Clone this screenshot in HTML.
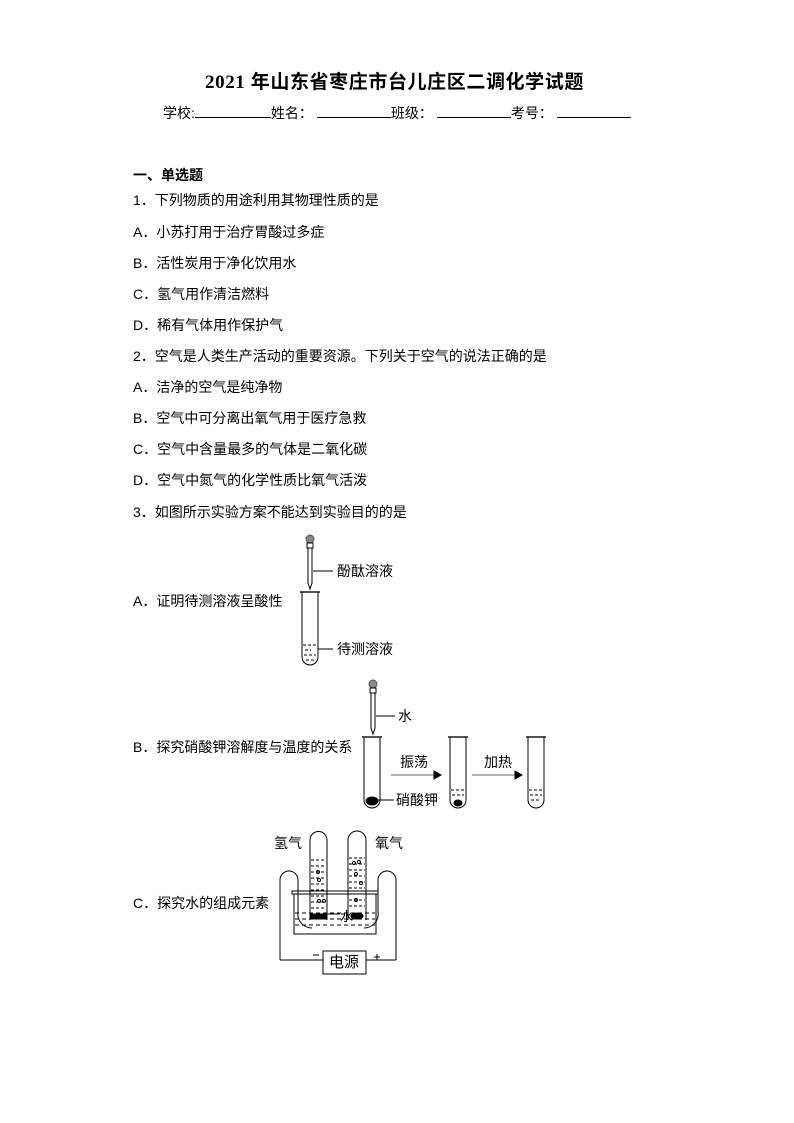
<!DOCTYPE html>
<html><head><meta charset="utf-8"><style>
body{margin:0;background:#fff;}
#p{position:relative;width:794px;height:1123px;font-family:"Liberation Serif","Noto Sans CJK SC",sans-serif;color:#000;}
.t{position:absolute;font-size:14px;letter-spacing:0;white-space:nowrap;line-height:16px;font-family:"Liberation Sans","Noto Sans CJK SC",sans-serif;}
.u{display:inline-block;border-bottom:1px solid #000;height:13px;vertical-align:baseline;}
</style></head><body><div id="p">
<div class="t" style="left:205px;top:72px;font-size:19px;line-height:22px;font-weight:bold;letter-spacing:0.6px;font-family:'Liberation Serif','Noto Sans CJK SC',serif;">2021 年山东省枣庄市台儿庄区二调化学试题</div>
<div class="t" style="left:163px;top:104px;letter-spacing:0;">学校:<span class="u" style="width:76px"></span>姓名：<span class="u" style="width:74px;margin-left:4px"></span>班级：<span class="u" style="width:74px;margin-left:4px"></span>考号：<span class="u" style="width:74px;margin-left:4px"></span></div>
<div class="t" style="left:133px;top:167px;font-weight:bold;">一、单选题</div>
<div class="t" style="left:133px;top:192px;">1．下列物质的用途利用其物理性质的是</div>
<div class="t" style="left:133px;top:224px;">A．小苏打用于治疗胃酸过多症</div>
<div class="t" style="left:133px;top:255px;">B．活性炭用于净化饮用水</div>
<div class="t" style="left:133px;top:286px;">C．氢气用作清洁燃料</div>
<div class="t" style="left:133px;top:317px;">D．稀有气体用作保护气</div>
<div class="t" style="left:133px;top:348px;">2．空气是人类生产活动的重要资源。下列关于空气的说法正确的是</div>
<div class="t" style="left:133px;top:379px;">A．洁净的空气是纯净物</div>
<div class="t" style="left:133px;top:410px;">B．空气中可分离出氧气用于医疗急救</div>
<div class="t" style="left:133px;top:441px;">C．空气中含量最多的气体是二氧化碳</div>
<div class="t" style="left:133px;top:472px;">D．空气中氮气的化学性质比氧气活泼</div>
<div class="t" style="left:133px;top:504px;">3．如图所示实验方案不能达到实验目的的是</div>
<div class="t" style="left:133px;top:593px;">A．证明待测溶液呈酸性</div>
<div class="t" style="left:133px;top:739px;">B．探究硝酸钾溶解度与温度的关系</div>
<div class="t" style="left:133px;top:895px;">C．探究水的组成元素</div>
<div class="t" style="left:337px;top:563px;">酚酞溶液</div>
<div class="t" style="left:337px;top:641px;">待测溶液</div>
<div class="t" style="left:398px;top:708px;">水</div>
<div class="t" style="left:400px;top:754px;">振荡</div>
<div class="t" style="left:484px;top:754px;">加热</div>
<div class="t" style="left:396px;top:792px;">硝酸钾</div>
<div class="t" style="left:274px;top:835px;">氢气</div>
<div class="t" style="left:375px;top:835px;">氧气</div>
<div class="t" style="left:329px;top:955px;font-size:15px;">电源</div>
<svg width="794" height="1123" style="position:absolute;left:0;top:0" fill="none" stroke="#000" stroke-width="1">
<circle cx="310" cy="539" r="4" fill="#888" stroke="#555"/>
<rect x="307" y="543" width="6" height="5" fill="#fff"/>
<path d="M308 548 V583 L310 589 L312 583 V548"/>
<line x1="313" y1="571" x2="333" y2="571"/>
<line x1="300" y1="592" x2="320" y2="592" stroke-width="2" stroke="#555"/>
<path d="M302 592 V657 A8 8 0 0 0 318 657 V592"/>
<path d="M303 645 H317 M305 650 H311 M304 655 H316 M306 660 H314" stroke-dasharray="3 2"/>
<line x1="318" y1="649" x2="333" y2="649"/>
<circle cx="373" cy="684" r="4" fill="#888" stroke="#555"/>
<rect x="370" y="688" width="6" height="5" fill="#fff"/>
<path d="M371 693 V728 L373 734 L375 728 V693"/>
<line x1="376" y1="716" x2="395" y2="716"/>
<line x1="362" y1="737" x2="382" y2="737" stroke-width="2" stroke="#555"/>
<path d="M364 737 V800 A8 8 0 0 0 380 800 V737"/>
<ellipse cx="372" cy="801" rx="6" ry="4" fill="#000"/>
<line x1="378" y1="800" x2="394" y2="800"/>
<line x1="391" y1="775" x2="435" y2="775" stroke="#666"/>
<path d="M434 771 L441 775 L434 779Z" fill="#000"/>
<line x1="448" y1="737" x2="468" y2="737" stroke-width="2" stroke="#555"/>
<path d="M450 737 V800 A8 8 0 0 0 466 800 V737"/>
<path d="M451 790 H465 M452 795 H464" stroke-dasharray="3 2"/>
<ellipse cx="458" cy="803" rx="4" ry="3" fill="#000"/>
<line x1="472" y1="775" x2="516" y2="775" stroke="#666"/>
<path d="M515 771 L522 775 L515 779Z" fill="#000"/>
<line x1="526" y1="737" x2="546" y2="737" stroke-width="2" stroke="#555"/>
<path d="M528 737 V800 A8 8 0 0 0 544 800 V737"/>
<path d="M529 790 H543 M530 795 H542 M531 800 H541" stroke-dasharray="3 2"/>
<path d="M310 920 V840 A8.5 8.5 0 0 1 327 840 V920"/>
<path d="M348 920 V840 A8.5 8.5 0 0 1 366 840 V920"/>
<path d="M311 860 H326 M311 866 H326 M311 872 H326 M311 878 H326 M311 884 H326 M311 890 H326 M311 896 H326 M311 902 H326 M311 908 H326 M349 858 H365 M349 864 H365 M349 870 H365 M349 876 H365 M349 882 H365 M349 888 H365 M349 894 H365 M349 900 H365 M349 906 H365" stroke-dasharray="3 2"/>
<circle cx="318" cy="872" r="1.5"/><circle cx="319" cy="880" r="1.5"/><circle cx="319" cy="901" r="1.5"/><circle cx="324" cy="901" r="1.5"/>
<circle cx="354" cy="863" r="1.5"/><circle cx="359" cy="862" r="1.5"/><circle cx="356" cy="874" r="1.5"/><circle cx="361" cy="883" r="1.5"/><circle cx="356" cy="900" r="1.5"/>
<rect x="292" y="891" width="86" height="3"/>
<path d="M294 894 V934 H376 V894"/>
<path d="M295 913 H375 M295 919 H375 M295 925 H375" stroke-dasharray="4 3"/>
<path d="M280 960 V880 A9 9 0 0 1 298 880 V912 A14 14 0 0 0 312 928"/>
<path d="M396 960 V880 A9 9 0 0 0 378 880 V912 A14 14 0 0 1 364 928"/>
<rect x="311" y="914" width="15" height="5" fill="#000"/>
<ellipse cx="357" cy="916" rx="6" ry="3" fill="#000"/>
<line x1="325" y1="914" x2="340" y2="914"/>
<text x="340" y="921" font-size="13" fill="#000" stroke="none" font-family="Noto Sans CJK SC">水</text>
<path d="M280 960 H323 M366 960 H396"/>
<rect x="323" y="951" width="43" height="23"/>
<path d="M313 955 H319 M374 957 H380 M377 954 V960"/>
</svg>
</div></body></html>
